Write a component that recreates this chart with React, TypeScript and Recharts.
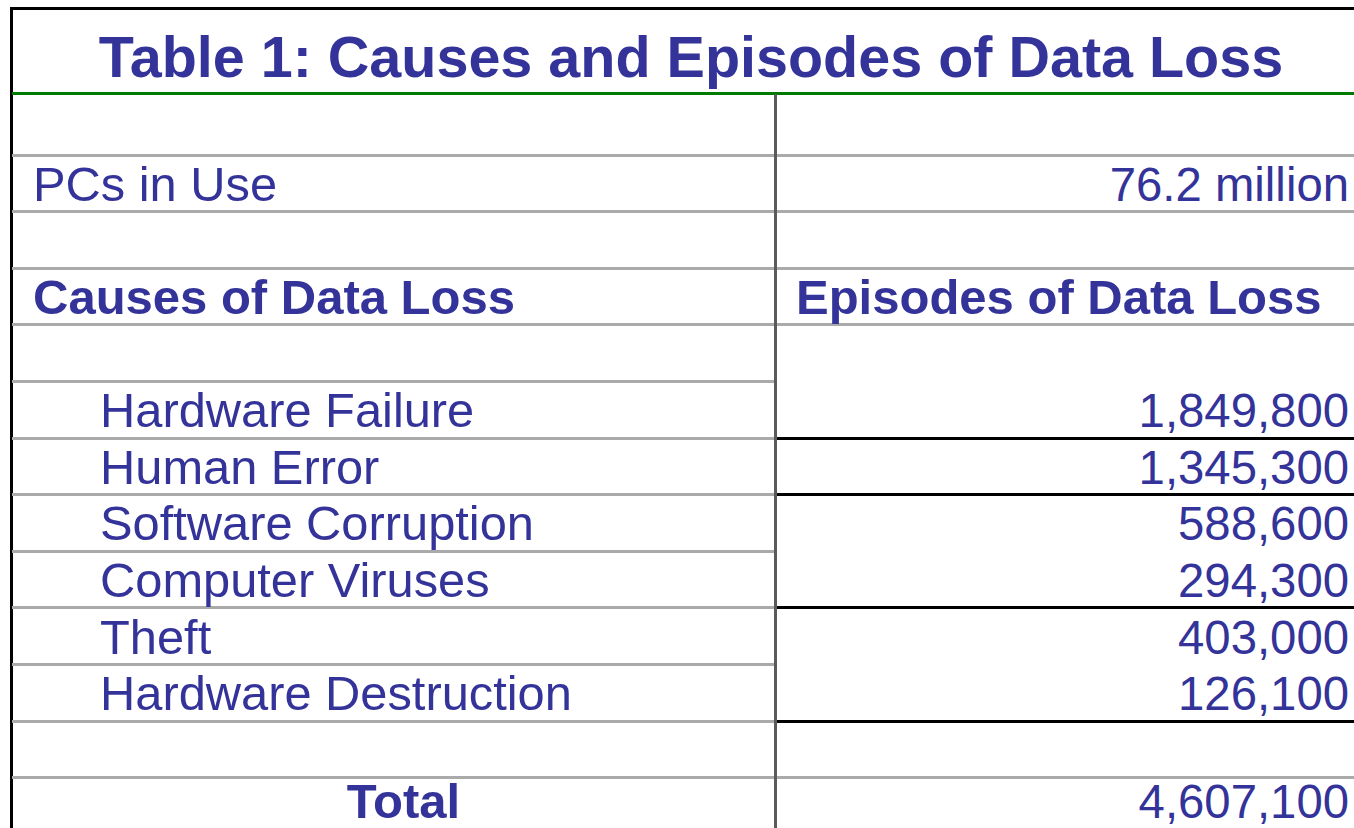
import { BarChart, Bar, XAxis, YAxis, Customized } from 'recharts';

// table text
const TITLE = 'Table 1: Causes and Episodes of Data Loss';
const pcsLabel = 'PCs in Use';
const pcsInUse = '76.2 million';
const headers = ['Causes of Data Loss', 'Episodes of Data Loss'];
const causes = [
  'Hardware Failure',
  'Human Error',
  'Software Corruption',
  'Computer Viruses',
  'Theft',
  'Hardware Destruction',
];
const episodes = [1849800, 1345300, 588600, 294300, 403000, 126100];
const totalLabel = 'Total';
const totalEpisodes = 4607100;

// column widths (units of the hidden x axis = px)
const COL_W = [763, 579];

const BLUE = '#333399';
const GRAY = '#aaaaaa';
const FONT = '"Liberation Sans", Arial, sans-serif';

// bottom rule colour of the right hand cells, row by row
const RIGHT_RULE = [GRAY, GRAY, GRAY, GRAY, null, '#000', '#000', null, '#000', null, '#000', GRAY, null];

const fmt = (v: number) => v.toLocaleString('en-US');

type Kind = 'blank' | 'plain' | 'head' | 'item' | 'total';
const blank = { kind: 'blank' as Kind, left: '', right: '' };

const rows = [
  blank,
  { kind: 'plain' as Kind, left: pcsLabel, right: pcsInUse },
  blank,
  { kind: 'head' as Kind, left: headers[0], right: headers[1] },
  blank,
  ...causes.map((c, i) => ({ kind: 'item' as Kind, left: c, right: fmt(episodes[i]) })),
  blank,
  { kind: 'total' as Kind, left: totalLabel, right: fmt(totalEpisodes) },
].map((r, i) => ({ ...r, key: `r${i}`, idx: i, leftW: COL_W[0], rightW: COL_W[1] }));

const LeftCell = (props: any) => {
  const { x, y, width, height, payload } = props;
  const bold = payload.kind === 'head' || payload.kind === 'total';
  let tx = x + 21;
  let anchor: 'start' | 'middle' = 'start';
  if (payload.kind === 'item') tx = x + 88;
  if (payload.kind === 'total') {
    tx = x + width / 2 + 10;
    anchor = 'middle';
  }
  const base = y + height - (payload.kind === 'total' ? 16 : 11);
  const last = payload.idx === rows.length - 1;
  return (
    <g>
      {!last && (
        <line x1={x} x2={x + width} y1={y + height} y2={y + height} stroke={GRAY} strokeWidth={3}
          shapeRendering="crispEdges" />
      )}
      <text x={tx} y={base} textAnchor={anchor} fontFamily={FONT} fontSize={bold ? 49 : 48.8}
        fontWeight={bold ? 'bold' : 'normal'} fill={BLUE}>
        {payload.left}
      </text>
    </g>
  );
};

const RightCell = (props: any) => {
  const { x, y, width, height, payload } = props;
  const rule = RIGHT_RULE[payload.idx];
  const head = payload.kind === 'head';
  const base = y + height - (payload.kind === 'total' ? 16 : 11);
  return (
    <g>
      {rule && (
        <line x1={x + 1} x2={x + width} y1={y + height} y2={y + height} stroke={rule} strokeWidth={3}
          shapeRendering="crispEdges" />
      )}
      <line x1={x} x2={x} y1={payload.idx === 0 ? y - 4 : y} y2={y + height} stroke="#5a5a5a" strokeWidth={3}
        shapeRendering="crispEdges" />
      <text x={head ? x + 21 : x + width - 5} y={base} textAnchor={head ? 'start' : 'end'}
        fontFamily={FONT} fontSize={head ? 49 : 47.3} fontWeight={head ? 'bold' : 'normal'} fill={BLUE}>
        {payload.right}
      </text>
    </g>
  );
};

const Frame = () => (
  <g shapeRendering="crispEdges">
    <line x1={10} x2={1354} y1={8.5} y2={8.5} stroke="#000" strokeWidth={3} />
    <line x1={11.5} x2={11.5} y1={7} y2={834} stroke="#000" strokeWidth={3} />
    <line x1={12} x2={1354} y1={93.5} y2={93.5} stroke="#007a00" strokeWidth={3} />
    <text x={691} y={77} textAnchor="middle" fontFamily={FONT} fontSize={57.5} fontWeight="bold" fill={BLUE}
      shapeRendering="auto">
      {TITLE}
    </text>
  </g>
);

export default function App() {
  return (
    <div style={{ width: 1354, height: 828, overflow: 'hidden', background: '#fff' }}>
      <style>{'body{margin:0;overflow:hidden;background:#fff}'}</style>
      <BarChart
        layout="vertical"
        width={1354}
        height={834}
        data={rows}
        margin={{ top: 98, right: 0, bottom: 0, left: 12 }}
        barCategoryGap={0}
      >
        <XAxis type="number" hide domain={[0, COL_W[0] + COL_W[1]]} />
        <YAxis type="category" dataKey="key" hide />
        <Bar dataKey="leftW" stackId="t" isAnimationActive={false} shape={LeftCell} />
        <Bar dataKey="rightW" stackId="t" isAnimationActive={false} shape={RightCell} />
        <Customized component={Frame} />
      </BarChart>
    </div>
  );
}
